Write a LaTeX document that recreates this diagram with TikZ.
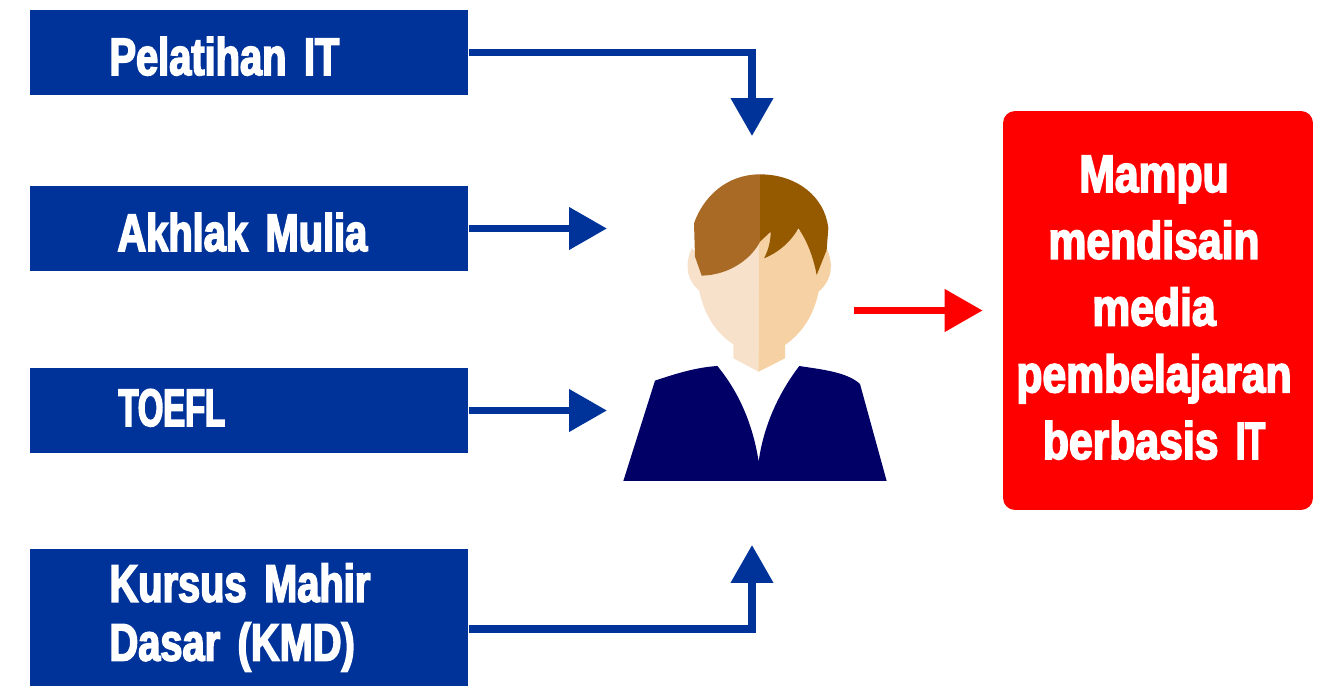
\documentclass[tikz,border=0pt]{standalone}
\usepackage{fontspec}
\setmainfont[FakeStretch = 0.755, FakeBold = 3]{Liberation Sans Bold}
\newfontface\capsface[FakeStretch = 0.62, FakeBold = 3]{Liberation Sans Bold}
\newfontface\wideface[FakeStretch = 0.81, FakeBold = 3]{Liberation Sans Bold}
\usetikzlibrary{arrows.meta}

\definecolor{boxblue}{HTML}{003399}
\definecolor{navy}{HTML}{000066}
\definecolor{hairlight}{HTML}{A86A25}
\definecolor{hairdark}{HTML}{955A00}
\definecolor{skinlight}{HTML}{F8E1CB}
\definecolor{skindark}{HTML}{F6D1A4}

\tikzset{
	box/.style = {fill = boxblue, text = white, text width = 8.78 cm, inner xsep = 0, inner ysep = 0, align = left},
	flow/.style = {draw = boxblue, line width = 0.15 cm},
	result/.style = {flow, draw = red}
}

\begin{document}
\begin{tikzpicture}[> = {Triangle[length=0.76cm, width=0.82cm]}, x = 0.02 cm, y = -0.02 cm, font = \fontsize{30}{33.5}\selectfont]

	\useasboundingbox (0, 0) rectangle (1325, 686);

	% Draw boxes

	\node [box, minimum height = 1.7 cm, text height = 0.9 cm, text depth = 0 cm] (pelatihan) at (249, 52.5) {\hspace*{1.6 cm}Pelatihan IT};
	\node [box, minimum height = 1.7 cm, text height = 0.9 cm, text depth = 0 cm] (akhlak) at (249, 228.5) {\hspace*{1.76 cm}Akhlak Mulia};
	\node [box, minimum height = 1.7 cm, text height = 0.62 cm, text depth = 0 cm] (toefl) at (249, 410.5) {\hspace*{1.78 cm}{\capsface TOEFL}};
	\node [box, minimum height = 2.74 cm, text height = 0 cm, text depth = 0.632 cm] (kursus) at (249, 617.5) {\hspace*{1.6 cm}Kursus Mahir\\\hspace*{1.6 cm}Dasar (KMD)};

	\node [fill = red, text = white, rounded corners = 0.24 cm, minimum width = 6.2 cm, minimum height = 7.98 cm, text width = 6.2 cm, inner xsep = 0, inner ysep = 0, text height = 0 cm, text depth = 4.74 cm, font = \fontsize{30}{38}\wideface, execute at begin node = {\centering\rightskip 0.16 cm plus 1fil\relax}] (mampu) at (1158, 310.5) {Mampu\\mendisain\\media\\pembelajaran\\berbasis {\capsface IT}};

	% Arrow end points

	\coordinate (intop) at (752, 136);
	\coordinate (inakhlak) at (607, 228.5);
	\coordinate (intoefl) at (607, 410.5);
	\coordinate (inbottom) at (752, 545);
	\coordinate (outperson) at (854, 310.5);

	% Draw arrows

	\draw [flow, ->] (pelatihan.east) -| (intop);
	\draw [flow, ->] (akhlak.east) -- (inakhlak);
	\draw [flow, ->] (toefl.east) -- (intoefl);
	\draw [flow, ->] ([yshift = -0.23 cm] kursus.east) -| (inbottom);
	\draw [result, ->, shorten > = 0.4 cm] (outperson) -- (mampu.west);

	% Draw person

	\begin{scope}[shift = {(620, 160)}, x = 0.00667 cm, y = -0.00667 cm]

		% Ears
		\fill [skinlight] (215, 265) .. controls (195, 310) and (195, 360) .. (245, 398) -- (260, 300) -- cycle;
		\fill [skindark] (620, 265) .. controls (640, 310) and (640, 360) .. (592, 398) -- (570, 300) -- cycle;

		% Face + neck
		\fill [skinlight] (418, 150) -- (225, 250) -- (238, 395) .. controls (255, 470) and (290, 520) .. (340, 553) -- (340, 595) -- (416, 635) -- (418, 635) -- cycle;
		\fill [skindark] (418, 150) -- (612, 250) -- (596, 395) .. controls (580, 470) and (545, 520) .. (495, 555) -- (495, 595) -- (416, 635) -- cycle;

		% Hair
		\fill [hairlight] (420, 43) .. controls (320, 43) and (250, 110) .. (222, 190) -- (225, 290) -- (245, 347) .. controls (330, 345) and (395, 295) .. (420, 245) -- cycle;
		\fill [hairdark] (420, 43) .. controls (530, 43) and (615, 110) .. (625, 205) -- (620, 270) -- (590, 345) .. controls (580, 290) and (560, 240) .. (535, 205) .. controls (510, 250) and (470, 280) .. (432, 295) .. controls (445, 270) and (452, 245) .. (452, 215) -- (420, 245) -- cycle;

		% Jacket
		\fill [navy] (10, 963) -- (105, 662) .. controls (170, 640) and (230, 622) .. (292, 618) .. controls (360, 700) and (400, 800) .. (416, 905) .. controls (430, 800) and (475, 700) .. (538, 618) .. controls (600, 628) and (680, 635) .. (720, 672) -- (800, 963) -- cycle;

	\end{scope}

\end{tikzpicture}
\end{document}
